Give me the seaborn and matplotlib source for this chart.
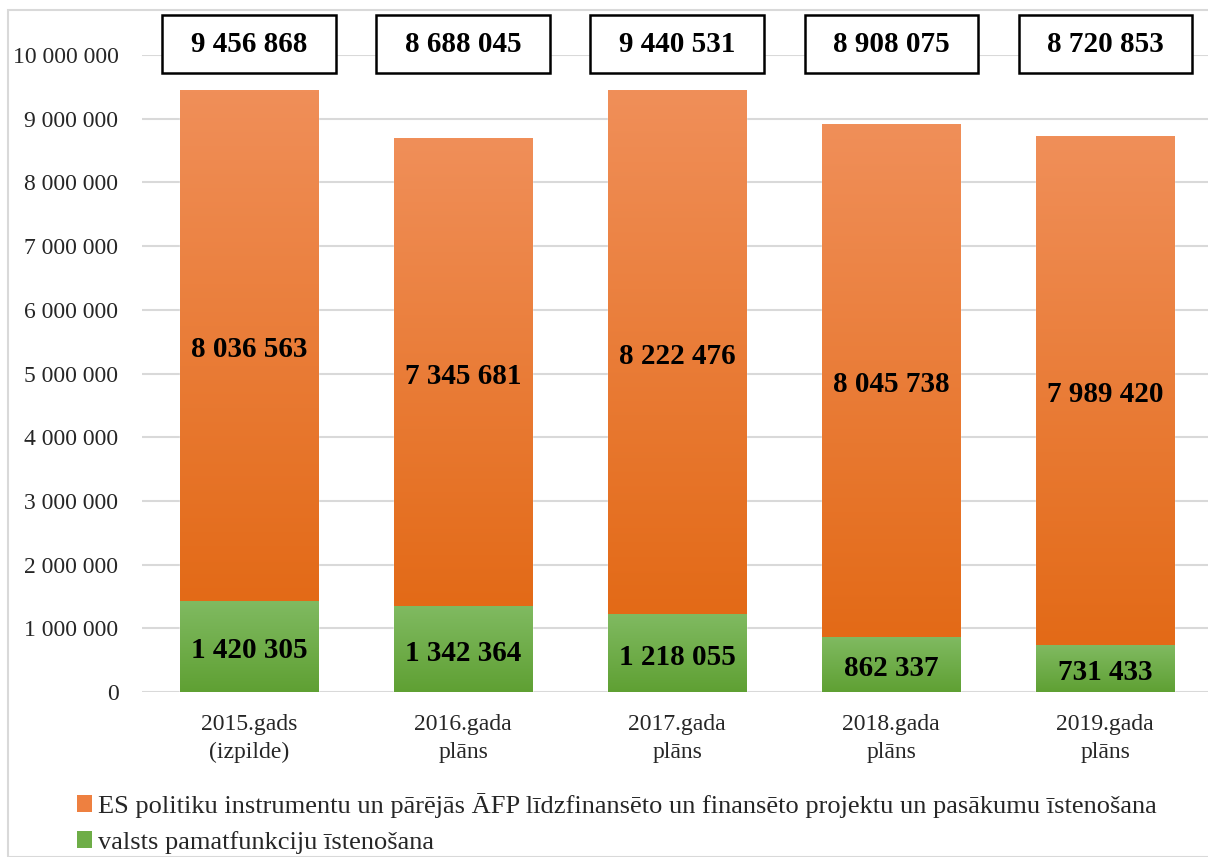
import numpy as np
import pandas as pd
import matplotlib
matplotlib.use('Agg')
import matplotlib.pyplot as plt
import seaborn as sns
from matplotlib.patches import Rectangle, Patch
from matplotlib.colors import LinearSegmentedColormap

# Data
years = ['2015.gads\n(izpilde)', '2016.gada\nplāns', '2017.gada\nplāns', '2018.gada\nplāns', '2019.gada\nplāns']
es_values = [8036563, 7345681, 8222476, 8045738, 7989420]
valsts_values = [1420305, 1342364, 1218055, 862337, 731433]
totals = [9456868, 8688045, 9440531, 8908075, 8720853]
es_label = 'ES politiku instrumentu un pārējās ĀFP līdzfinansēto un finansēto projektu un pasākumu īstenošana'
valsts_label = 'valsts pamatfunkciju īstenošana'

df = pd.DataFrame({'year': years, 'es': es_values, 'valsts': valsts_values, 'total': totals})

def fmt(v):
    return f'{v:,}'.replace(',', ' ')

sns.set_theme(style='white')
plt.rcParams['font.family'] = ['Liberation Serif', 'DejaVu Serif']

fig = plt.figure(figsize=(12.08, 8.57), dpi=100)
ax = fig.add_axes([142 / 1208, 165 / 857, 1066 / 1208, 637 / 857])

orange = '#EC7A2E'
green = '#6EAD47'
sns.barplot(data=df, x='year', y='total', color=orange, width=0.645, ax=ax, saturation=1, zorder=2)
sns.barplot(data=df, x='year', y='valsts', color=green, width=0.645, ax=ax, saturation=1, zorder=3)

orange_cmap = LinearSegmentedColormap.from_list('o', ['#E36A17', '#F08F59'])
green_cmap = LinearSegmentedColormap.from_list('g', ['#5FA033', '#80BA61'])
grad = np.linspace(0, 1, 256).reshape(-1, 1)

n = len(years)
for i, p in enumerate(ax.patches):
    x0, w = p.get_x(), p.get_width()
    if i < n:
        # orange segment sits above green one
        y0, y1 = valsts_values[i], totals[i]
        cmap = orange_cmap
    else:
        y0, y1 = 0, p.get_height()
        cmap = green_cmap
    ax.imshow(grad, cmap=cmap, origin='lower', aspect='auto',
              extent=[x0, x0 + w, y0, y1], zorder=4)

for i in range(n):
    ax.text(i, (valsts_values[i] + totals[i]) / 2 - 60000, fmt(es_values[i]), ha='center', va='center',
            fontsize=21, fontweight='bold', color='black', zorder=6)
    ax.text(i, valsts_values[i] / 2 - 60000, fmt(valsts_values[i]), ha='center', va='center',
            fontsize=21, fontweight='bold', color='black', zorder=6)
    ax.add_patch(Rectangle((i - 0.405, 9.72e6), 0.81, 0.91e6, facecolor='white',
                           edgecolor='black', linewidth=1.8, clip_on=False, zorder=5))
    ax.text(i, 10.17e6, fmt(totals[i]), ha='center', va='center',
            fontsize=21, fontweight='bold', color='black', zorder=6, clip_on=False)

ax.set_xlim(-0.5, 4.48)
ax.set_ylim(0, 10000000)
ax.set_yticks(np.arange(0, 10000001, 1000000))
ax.set_yticklabels([fmt(v) for v in range(0, 10000001, 1000000)], fontsize=17)
ax.tick_params(axis='y', pad=17, length=0)
ax.tick_params(axis='x', pad=16, length=0, labelsize=17)
for t in ax.get_xticklabels():
    t.set_linespacing(1.4)
ax.set_xlabel('')
ax.set_ylabel('')
ax.grid(axis='y', color='#D9D9D9', linewidth=1.5, zorder=0)
ax.set_axisbelow(True)
for s in ax.spines.values():
    s.set_visible(False)

handles = [Patch(facecolor='#EE8040', edgecolor='none', label=es_label),
           Patch(facecolor='#6EAD47', edgecolor='none', label=valsts_label)]
fig.legend(handles=handles, loc='upper left', bbox_to_anchor=(66 / 1208, 1 - 782 / 857),
           frameon=False, fontsize=19, handlelength=0.6, handleheight=0.6,
           handletextpad=0.2, labelspacing=0.5, borderaxespad=0)

fig.add_artist(Rectangle((8 / 1208, 0), 1.0, 1 - 10 / 857, transform=fig.transFigure,
                         facecolor='none', edgecolor='#D9D9D9', linewidth=1.5))

fig.savefig('out.png', dpi=100)
